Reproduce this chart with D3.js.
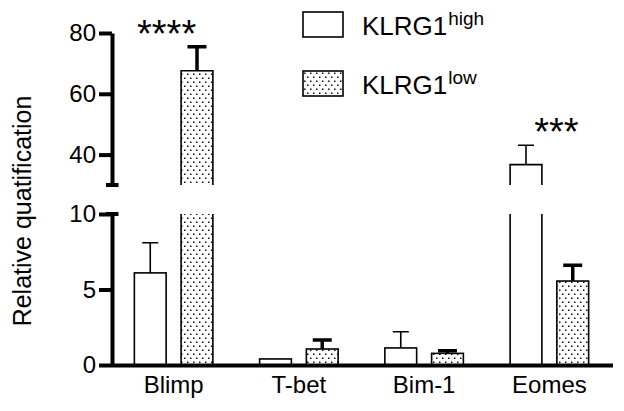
<!DOCTYPE html>
<html lang="en">
  <head>
    <meta charset="UTF-8">
    <script src="https://cdn.jsdelivr.net/npm/d3@7/dist/d3.min.js"></script>
    <title>KLRG1 relative quantification</title>
    <style>
    body { margin: 0; background: #fff; }
    text { font-family: "Liberation Sans", Arial, sans-serif; fill: #000; }
    </style>
  </head>
  <body>
    <div id="chart"></div>
    <script>

// Values (mean and error, per gene)
const categories = ["Blimp", "T-bet", "Bim-1", "Eomes"];
const series     = ["high", "low"];
const highMeans  = [6.1, 0.4, 1.13, 36.7];
const highErrors = [2.0, 0, 1.07, 6.4];
const lowMeans   = [67.6, 1.06, 0.77, 5.56];
const lowErrors  = [7.9, 0.6, 0.18, 1.04];
const lowerTicks = [0, 5, 10];
const upperTicks = [40, 60, 80];
const starLabels = [
  { category: "Blimp", text: "****", value: 75.4, dx: -7 },
  { category: "Eomes", text: "***",  value: 43.3, dx: 7 }
];

const width  = 624;
const height = 411;

// the y axis is broken: 0-10 below, 30-80 above
const breakLow  = 10;
const breakHigh = 30;

const svg = d3
  .select("#chart")
  .append("svg")
  .attr("width",  width)
  .attr("height", height)
  .attr("viewBox", [0, 0, width, height]);

svg.append("rect").attr("width", width).attr("height", height).attr("fill", "#fff");

// stipple pattern for the KLRG1 low bars
const pattern = svg.append("defs")
  .append("pattern")
  .attr("id", "dots")
  .attr("patternUnits", "userSpaceOnUse")
  .attr("width", 6)
  .attr("height", 8);
pattern.append("rect").attr("width", 6).attr("height", 8).attr("fill", "#fff");
pattern.append("rect").attr("x", 1).attr("y", 1.5).attr("width", 1.5).attr("height", 1.5).attr("fill", "#111");
pattern.append("rect").attr("x", 4).attr("y", 5.5).attr("width", 1.5).attr("height", 1.5).attr("fill", "#111");

const x = d3.scaleBand()
  .domain(categories)
  .range([111, 612])
  .paddingInner(0)
  .paddingOuter(0);

const xs = d3.scaleBand()
  .domain(series)
  .range([0, x.bandwidth()])
  .paddingInner(0.32)
  .paddingOuter(0.5);

const yLow  = d3.scaleLinear().domain([0, breakLow]).range([365, 214]);
const yHigh = d3.scaleLinear().domain([breakHigh, 80]).range([185, 33]);
const yAny  = v => (v <= breakLow ? yLow(v) : yHigh(v));

const bars = [];
categories.forEach((c, i) => {
  bars.push({ category: c, series: "high", value: highMeans[i], err: highErrors[i] });
  bars.push({ category: c, series: "low",  value: lowMeans[i],  err: lowErrors[i] });
});

const fillOf = d => (d.series === "low" ? "url(#dots)" : "#fff");

const barG = svg.append("g").attr("stroke", "#000").attr("stroke-width", 1.6);

bars.forEach(d => {
  const x0 = x(d.category) + xs(d.series);
  const w  = xs.bandwidth();
  if (d.value <= breakLow) {
    barG.append("rect")
      .attr("x", x0).attr("y", yLow(d.value))
      .attr("width", w).attr("height", yLow(0) - yLow(d.value))
      .attr("fill", fillOf(d));
  } else {
    // lower piece: open at the top
    barG.append("rect")
      .attr("x", x0).attr("y", yLow(breakLow))
      .attr("width", w).attr("height", yLow(0) - yLow(breakLow))
      .attr("fill", fillOf(d)).attr("stroke", "none");
    barG.append("path")
      .attr("fill", "none")
      .attr("d", `M${x0},${yLow(0)}V${yLow(breakLow)}M${x0 + w},${yLow(breakLow)}V${yLow(0)}`);
    // upper piece: open at the bottom
    barG.append("rect")
      .attr("x", x0).attr("y", yHigh(d.value))
      .attr("width", w).attr("height", yHigh(breakHigh) - yHigh(d.value))
      .attr("fill", fillOf(d)).attr("stroke", "none");
    barG.append("path")
      .attr("fill", "none")
      .attr("d", `M${x0},${yHigh(breakHigh)}V${yHigh(d.value)}H${x0 + w}V${yHigh(breakHigh)}`);
  }

  // error bar (upper side only)
  if (d.err > 0) {
    const cx = x0 + w / 2;
    const cap = d.series === "low" ? 9.5 : 8;
    barG.append("path")
      .attr("fill", "none")
      .attr("stroke-width", d.series === "low" ? 3.5 : 1.6)
      .attr("d", `M${cx},${yAny(d.value)}V${yAny(d.value + d.err)}M${cx - cap},${yAny(d.value + d.err)}H${cx + cap}`);
  }
});

// y axis, two segments
const axisX = 112;

function styleAxis(g) {
  g.attr("font-size", 24).attr("font-family", null);
  g.selectAll("path, line").attr("stroke", "#000").attr("stroke-width", 4);
  g.selectAll("text").attr("fill", "#000");
}

svg.append("g")
  .attr("transform", `translate(${axisX},0)`)
  .call(d3.axisLeft(yLow).tickValues(lowerTicks).tickSize(13).tickSizeOuter(0).tickPadding(3))
  .call(styleAxis);

svg.append("g")
  .attr("transform", `translate(${axisX},0)`)
  .call(d3.axisLeft(yHigh).tickValues(upperTicks).tickSize(13).tickSizeOuter(0).tickPadding(3))
  .call(styleAxis);

// break caps
svg.append("g")
  .attr("stroke", "#000")
  .attr("stroke-width", 4)
  .selectAll("line")
  .data([yLow(breakLow), yHigh(breakHigh)])
  .join("line")
  .attr("x1", axisX - 6).attr("x2", axisX + 6.5)
  .attr("y1", d => d).attr("y2", d => d);

// x axis
svg.append("g")
  .attr("transform", `translate(0,${yLow(0)})`)
  .call(d3.axisBottom(x).tickSize(0).tickPadding(11))
  .call(styleAxis)
  .call(g => g.select(".domain").attr("d", `M${axisX},0.5H613`));

// y title
svg.append("text")
  .attr("transform", `translate(31,${(yLow(0) + yHigh(80)) / 2 + 12}) rotate(-90)`)
  .attr("text-anchor", "middle")
  .attr("font-size", 25)
  .text("Relative quatification");

// significance stars
svg.append("g")
  .selectAll("text")
  .data(starLabels)
  .join("text")
  .attr("x", d => x(d.category) + x.bandwidth() / 2 + d.dx)
  .attr("y", d => yHigh(d.value))
  .attr("text-anchor", "middle")
  .attr("font-size", 38)
  .text(d => d.text);

// legend
const legend = svg.append("g")
  .selectAll("g")
  .data(series)
  .join("g")
  .attr("transform", (d, i) => `translate(303,${12 + i * 59})`);

legend.append("rect")
  .attr("width", 40).attr("height", 25)
  .attr("fill", d => (d === "low" ? "url(#dots)" : "#fff"))
  .attr("stroke", "#000").attr("stroke-width", 1.6);

const lt = legend.append("text")
  .attr("x", 59).attr("y", 23)
  .attr("font-size", 26);
lt.append("tspan").text("KLRG1");
lt.append("tspan")
  .attr("font-size", 19)
  .attr("dx", 1)
  .attr("dy", -10)
  .text(d => d);

    </script>
  </body>
</html>
